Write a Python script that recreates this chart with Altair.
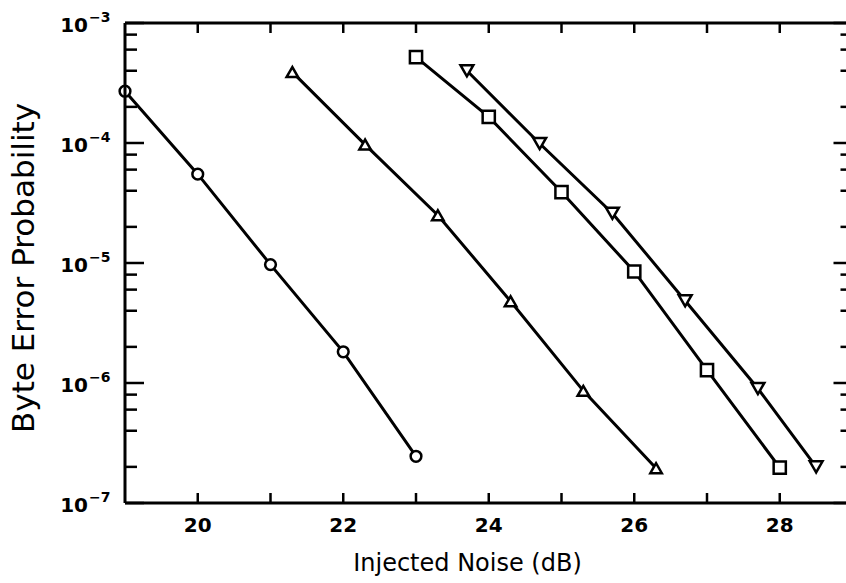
import altair as alt
import pandas as pd

# Measured byte error probability against injected noise, four receiver curves
circle_x = [19, 20, 21, 22, 23]
circle_y = [2.7e-4, 5.5e-5, 9.7e-6, 1.82e-6, 2.45e-7]

tri_up_x = [21.3, 22.3, 23.3, 24.3, 25.3, 26.3]
tri_up_y = [3.9e-4, 9.7e-5, 2.5e-5, 4.8e-6, 8.6e-7, 1.95e-7]

square_x = [23, 24, 25, 26, 27, 28]
square_y = [5.2e-4, 1.65e-4, 3.9e-5, 8.5e-6, 1.28e-6, 1.97e-7]

tri_down_x = [23.7, 24.7, 25.7, 26.7, 27.7, 28.5]
tri_down_y = [4.0e-4, 9.9e-5, 2.6e-5, 4.85e-6, 9.0e-7, 2.0e-7]

series_names = ["circle", "triangle-up", "square", "triangle-down"]

# Axis ticks and labels
x_tick_values = [20, 21, 22, 23, 24, 25, 26, 27, 28]
x_label_values = [20, 22, 24, 26, 28]
y_decades = [1e-7, 1e-6, 1e-5, 1e-4, 1e-3]
y_mantissa = ["10", "10", "10", "10", "10"]
y_exponents = ["\u22127", "\u22126", "\u22125", "\u22124", "\u22123"]
minor_multipliers = [2, 4, 6, 8]
x_title = "Injected Noise (dB)"
y_title = "Byte Error Probability"

# Plot geometry
W, H = 721, 480
X_MIN, X_FULL = 19, 29
PX_PER_DB = 72.75
X_MAX = X_MIN + W / PX_PER_DB          # frame runs past the right edge
RIGHT = (X_FULL - X_MIN) * PX_PER_DB   # right frame line position
FONT = "DejaVu Sans"
LW = 3

rows = []
for name, xs, ys in zip(series_names,
                        [circle_x, tri_up_x, square_x, tri_down_x],
                        [circle_y, tri_up_y, square_y, tri_down_y]):
    for i, (xv, yv) in enumerate(zip(xs, ys)):
        rows.append({"series": name, "noise": xv, "p": yv, "order": i})
df = pd.DataFrame(rows)

x_scale = alt.Scale(domain=[X_MIN, X_MAX], nice=False, zero=False)
y_scale = alt.Scale(type="log", domain=[1e-7, 1e-3], nice=False)

X = lambda f: alt.X(f, scale=x_scale, axis=None)
Y = lambda f: alt.Y(f, scale=y_scale, axis=None)

shape_scale = alt.Scale(
    domain=series_names,
    range=["circle", "triangle-up", "square", "triangle-down"],
)
size_scale = alt.Scale(domain=series_names, range=[115, 165, 135, 165])

lines = alt.Chart(df).mark_line(color="black", strokeWidth=LW).encode(
    x=X("noise:Q"), y=Y("p:Q"), detail="series:N", order="order:Q",
)

points = alt.Chart(df).mark_point(
    filled=False, fill="white", fillOpacity=1, stroke="black",
    strokeWidth=2.5, opacity=1,
).encode(
    x=X("noise:Q"), y=Y("p:Q"),
    shape=alt.Shape("series:N", scale=shape_scale, legend=None),
    size=alt.Size("series:N", scale=size_scale, legend=None),
)

one = pd.DataFrame({"k": [0]})


def frame_rule(**enc):
    return alt.Chart(one).mark_rule(color="black", strokeWidth=LW).encode(**enc)


# Frame: left, bottom and top (the right side lies just past the edge)
frame_left = frame_rule(x=alt.value(0), y=alt.value(0), y2=alt.value(H))
frame_bottom = frame_rule(x=alt.value(0), x2=alt.value(W), y=alt.value(H))
frame_top = frame_rule(x=alt.value(0), x2=alt.value(W), y=alt.value(0))

# Inward ticks along bottom and top
xt = pd.DataFrame({"noise": x_tick_values})
x_ticks_bottom = alt.Chart(xt).mark_rule(color="black", strokeWidth=2.5).encode(
    x=X("noise:Q"), y=alt.value(H), y2=alt.value(H - 10),
)
x_ticks_top = alt.Chart(xt).mark_rule(color="black", strokeWidth=2.5).encode(
    x=X("noise:Q"), y=alt.value(0), y2=alt.value(10),
)

# Inward ticks on left and right sides
major = pd.DataFrame({"p": y_decades})
minor = pd.DataFrame({"p": [m * d for d in y_decades[:-1] for m in minor_multipliers]})


def side_ticks(data, x0, x1):
    return alt.Chart(data).mark_rule(color="black", strokeWidth=2.5).encode(
        y=Y("p:Q"), x=alt.value(x0), x2=alt.value(x1),
    )


left_major = side_ticks(major, 0, 19)
left_minor = side_ticks(minor, 0, 12)
right_major = side_ticks(major, RIGHT - 19, W)
right_minor = side_ticks(minor, RIGHT - 12, W)

# Tick labels
x_labels = alt.Chart(pd.DataFrame({"noise": x_label_values})).mark_text(
    align="center", baseline="middle", font=FONT, fontSize=20,
    fontWeight="bold", color="black",
).encode(x=X("noise:Q"), y=alt.value(H + 23), text=alt.Text("noise:Q", format="d"))

dec_df = pd.DataFrame({"p": y_decades, "m": y_mantissa, "e": y_exponents})
y_labels = alt.Chart(dec_df).mark_text(
    align="right", baseline="middle", font=FONT, fontSize=20,
    fontWeight="bold", color="black", dy=3,
).encode(y=Y("p:Q"), x=alt.value(-37), text="m:N")

exponents = alt.Chart(dec_df).mark_text(
    align="left", baseline="middle", font=FONT, fontSize=14,
    fontWeight="bold", color="black", dy=-5,
).encode(y=Y("p:Q"), x=alt.value(-36), text="e:N")

# Axis titles
x_title_mark = alt.Chart(pd.DataFrame({"t": [x_title]})).mark_text(
    align="center", baseline="middle", font=FONT, fontSize=24, color="black",
).encode(x=alt.value(W / 2 - 18), y=alt.value(H + 61), text="t:N")

y_title_mark = alt.Chart(pd.DataFrame({"t": [y_title]})).mark_text(
    align="center", baseline="middle", font=FONT, fontSize=31, color="black",
    angle=270,
).encode(x=alt.value(-100), y=alt.value(H / 2 + 5), text="t:N")

chart = alt.layer(
    lines, points,
    frame_left, frame_bottom, frame_top,
    x_ticks_bottom, x_ticks_top,
    left_major, left_minor, right_major, right_minor,
    x_labels, y_labels, exponents, x_title_mark, y_title_mark,
).properties(
    width=W, height=H,
    autosize=alt.AutoSizeParams(type="none"),
    padding={"left": 125, "top": 23, "right": 0, "bottom": 80},
    background="white",
).configure_view(strokeWidth=0)

chart.save("out.html", embed_options={"renderer": "svg", "actions": False})
